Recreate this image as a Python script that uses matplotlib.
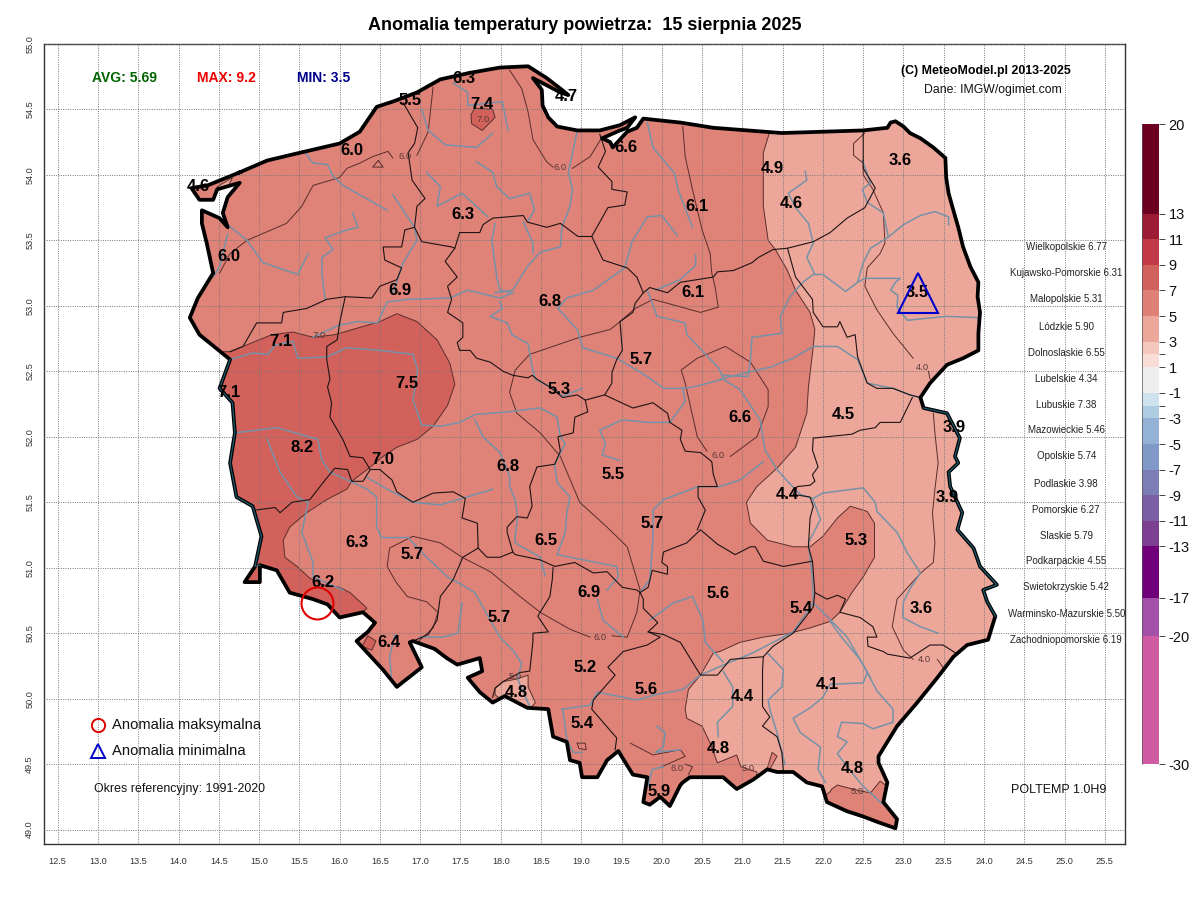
import matplotlib
matplotlib.use('Agg')
import matplotlib.pyplot as plt
import numpy as np
from matplotlib.colors import BoundaryNorm, ListedColormap
from matplotlib.patches import Polygon

plt.rcParams['font.family'] = ['Liberation Sans', 'DejaVu Sans']

# everything below as (lon, lat)
border = [(14.76,54.02),(15.10,54.11),(15.51,54.17),(16.00,54.24),(16.25,54.33),(16.46,54.52),(16.66,54.56),
    (16.96,54.63),(17.25,54.73),(17.62,54.78),(17.99,54.82),(18.34,54.83),(18.57,54.74),(18.74,54.66),(18.84,54.61),
    (18.74,54.63),(18.40,54.74),(18.51,54.65),(18.52,54.53),(18.59,54.44),(18.70,54.37),(18.95,54.34),(19.23,54.34),
    (19.48,54.38),(19.67,54.44),(19.57,54.36),(19.48,54.34),(19.26,54.28),(19.36,54.25),(19.39,54.21),(19.57,54.33),
    (19.69,54.36),(19.77,54.43),(20.23,54.40),(20.64,54.36),(21.06,54.34),(21.49,54.32),(22.00,54.33),(22.50,54.34),
    (22.80,54.36),(22.84,54.40),(22.90,54.41),(23.00,54.37),(23.08,54.32),(23.21,54.28),(23.37,54.21),(23.52,54.13),
    (23.53,53.98),(23.56,53.86),(23.61,53.75),(23.68,53.60),(23.74,53.45),(23.83,53.30),(23.93,53.18),(23.92,53.07),
    (23.95,52.95),(23.93,52.79),(23.93,52.66),(23.74,52.60),(23.54,52.55),(23.33,52.41),(23.21,52.30),(23.25,52.22),
    (23.54,52.18),(23.70,51.99),(23.64,51.85),(23.68,51.80),(23.56,51.73),(23.58,51.62),(23.73,51.42),(23.67,51.29),
    (23.87,51.15),(23.95,51.01),(24.16,50.87),(23.99,50.83),(24.04,50.74),(24.14,50.63),(24.05,50.45),(23.79,50.41),
    (23.62,50.32),(23.42,50.16),(23.17,49.97),(22.92,49.79),(22.69,49.56),(22.69,49.51),(22.80,49.36),(22.75,49.21),
    (22.92,49.08),(22.90,49.01),(22.67,49.06),(22.50,49.10),(22.30,49.14),(22.05,49.21),(21.99,49.33),(21.80,49.36),
    (21.63,49.44),(21.43,49.44),(21.31,49.46),(21.13,49.38),(20.93,49.31),(20.76,49.40),(20.51,49.40),(20.35,49.40),
    (20.26,49.36),(20.23,49.34),(20.10,49.18),(19.98,49.25),(19.85,49.19),(19.77,49.21),(19.82,49.40),(19.64,49.42),
    (19.46,49.60),(19.32,49.53),(19.20,49.40),(19.01,49.40),(18.98,49.51),(18.86,49.53),(18.82,49.67),(18.65,49.71),
    (18.59,49.92),(18.33,49.93),(18.05,50.02),(17.90,49.97),(17.74,50.05),(17.59,50.16),(17.77,50.21),(17.74,50.31),
    (17.46,50.26),(17.33,50.31),(17.18,50.38),(16.91,50.44),(16.87,50.43),(17.02,50.24),(16.71,50.09),(16.54,50.22),
    (16.21,50.44),(16.35,50.51),(16.44,50.58),(16.29,50.66),(16.00,50.62),(15.85,50.72),(15.67,50.76),(15.38,50.81),
    (15.22,50.98),(15.01,51.02),(15.01,50.89),(14.82,50.89),(14.95,51.01),(15.03,51.24),(14.92,51.47),(14.72,51.54),
    (14.64,51.80),(14.70,52.03),(14.67,52.26),(14.51,52.37),(14.64,52.59),(14.26,52.78),(14.14,52.91),(14.24,53.06),
    (14.43,53.25),(14.35,53.48),(14.29,53.63),(14.29,53.73),(14.51,53.67),(14.61,53.60),(14.55,53.71),(14.61,53.83),
    (14.76,53.94),(14.48,53.89),(14.43,53.81),(14.26,53.81),(14.16,53.90),(14.36,53.92),(14.48,53.95),(14.76,54.02)]

# anomaly bands: the base of the country is the 5-7 colour
band_3_5 = [(21.33,54.50),(21.33,54.31),(21.26,54.17),(21.26,53.98),(21.26,53.76),(21.32,53.50),(21.41,53.43),
    (21.56,53.27),(21.66,53.12),(21.84,52.95),(21.90,52.82),(21.88,52.69),(21.82,52.38),(21.80,52.18),(21.66,51.92),
    (21.43,51.76),(21.18,51.62),(21.05,51.50),(21.10,51.34),(21.31,51.21),(21.63,51.16),(21.84,51.16),(22.00,51.24),
    (22.18,51.38),(22.34,51.47),(22.55,51.43),(22.64,51.34),(22.64,51.08),(22.50,50.93),(22.36,50.81),(22.21,50.66),
    (22.09,50.59),(21.84,50.54),(21.59,50.50),(21.26,50.47),(20.97,50.43),(20.72,50.36),(20.64,50.35),(20.48,50.18),
    (20.33,50.07),(20.29,49.92),(20.31,49.85),(20.50,49.79),(20.60,49.66),(20.69,49.51),(20.93,49.57),(20.98,49.48),
    (21.18,49.44),(21.18,48.80),(24.50,48.80),(24.50,54.50)]
patch_3_5_south = [(17.93,50.03),(17.93,50.08),(18.03,50.13),(18.20,50.15),(18.34,50.18),(18.34,50.09),(18.43,49.97),
    (18.33,49.90),(18.05,49.97)]
patch_3_5_north = [(14.48,53.91),(14.67,53.98),(14.60,53.89),(14.48,53.87)]
patch_5_7_bieszczady = [(22.11,49.31),(22.18,49.34),(22.43,49.30),(22.59,49.28),(22.71,49.37),(22.80,49.33),(22.77,49.23),
    (22.96,49.04),(22.90,48.96),(22.46,49.04),(21.97,49.23),(22.09,49.29)]
patch_5_7_tatra = [(21.31,49.47),(21.37,49.59),(21.43,49.56),(21.34,49.46)]
band_7_9 = [(13.64,52.65),(14.64,52.65),(15.16,52.78),(15.42,52.80),(15.67,52.76),(15.94,52.78),(16.50,52.88),(16.71,52.94),
    (16.96,52.88),(17.21,52.74),(17.37,52.56),(17.43,52.40),(17.34,52.24),(17.16,52.08),(16.96,51.98),(16.71,51.92),
    (16.54,51.85),(16.34,51.75),(16.15,51.66),(16.09,51.60),(15.84,51.52),(15.59,51.42),(15.38,51.31),(15.30,51.21),
    (15.32,51.08),(15.47,51.01),(15.63,50.92),(15.79,50.87),(16.00,50.85),(16.13,50.81),(16.34,50.69),(16.15,50.59),
    (13.64,50.59)]
patch_7_9_north = [(17.68,54.51),(17.90,54.50),(17.93,54.44),(17.77,54.34),(17.64,54.39),(17.63,54.46)]
patch_7_9_south = [(16.35,50.48),(16.45,50.44),(16.40,50.37),(16.28,50.40)]

contours = [
    [(14.51,53.25),(14.64,53.40),(14.85,53.50),(15.34,53.63),(15.53,53.76),(15.67,53.92),(16.00,53.98),(16.09,54.05),
     (16.25,54.09),(16.41,54.14),(16.60,54.18),(16.66,54.13)],
    [(16.96,54.15),(17.10,54.33),(17.16,54.67)],
    [(16.48,54.11),(16.41,54.06),(16.54,54.06),(16.48,54.11)],
    [(18.11,54.80),(18.26,54.66),(18.34,54.48),(18.40,54.27),(18.57,54.10),(18.65,54.06)],
    [(18.89,54.05),(19.11,54.14),(19.26,54.29)],
    [(16.93,50.41),(17.16,50.54),(17.22,50.66),(17.08,50.74),(16.84,50.78),(16.70,50.89),(16.59,51.01),(16.62,51.15),
     (16.91,51.24),(17.25,51.19),(17.52,51.08),(17.87,50.97),(18.24,50.78),(18.49,50.66),(18.86,50.53),(19.11,50.47)],
    [(19.38,50.48),(19.57,50.47),(19.69,50.66),(19.73,50.83),(19.57,51.16),(19.32,51.31),(18.98,51.50),(18.74,51.85),
     (18.49,52.03),(18.20,52.18),(18.11,52.34),(18.18,52.51),(18.36,52.63),(18.98,52.76),(19.36,52.82),(19.48,52.88),
     (19.67,52.98),(19.89,53.05),(20.48,52.95),(20.70,52.99),(20.66,53.15),(20.62,53.25),(20.60,53.40),(20.50,53.58),
     (20.38,53.89),(20.29,54.14),(20.26,54.37)],
    [(20.85,51.85),(21.18,52.00),(21.32,52.23),(21.32,52.36),(21.10,52.57),(20.79,52.69),(20.44,52.60),(20.24,52.51),
     (20.29,52.41),(20.44,52.00),(20.56,51.89)],
    [(22.52,54.32),(22.38,54.24),(22.38,54.15),(22.50,54.09),(22.50,54.00),(22.62,53.89),(22.75,53.71),(22.77,53.48),
     (22.71,53.40),(22.55,53.29),(22.52,53.15),(22.67,52.97),(22.87,52.79),(23.12,52.60)],
    [(23.31,52.50),(23.33,52.44)],
    [(23.37,52.18),(23.39,52.03),(23.43,51.80),(23.39,51.60),(23.36,51.42),(23.39,51.19),(23.37,51.04),(23.25,50.98),
     (23.17,50.93),(22.92,50.76),(22.86,50.55),(23.00,50.37),(23.12,50.30)],
    [(23.42,50.30),(23.49,50.24)],
    [(18.95,49.66),(19.05,49.66),(19.06,49.61),(18.97,49.62),(18.95,49.66)],
    [(19.61,49.66),(19.89,49.57),(20.23,49.61),(20.29,49.56),(20.00,49.48)],
    [(20.29,49.50),(20.38,49.48),(20.33,49.42)],
]

voivodeship_lines = [
    [(16.79,54.55),(16.97,54.36),(16.93,54.24),(16.85,54.17),(16.90,53.96),(17.06,53.82),(16.96,53.76),(16.93,53.60),
     (16.81,53.58),(16.77,53.45),(16.54,53.45),(16.56,53.35),(16.77,53.29),(16.71,53.20),(16.50,53.15),(16.40,53.06),
     (16.07,53.07),(15.84,53.05),(15.59,52.98),(15.30,52.95),(15.28,52.87),(14.97,52.87),(14.80,52.69),(14.64,52.65)],
    [(16.07,53.07),(16.00,52.87),(15.97,52.74),(15.84,52.69),(15.84,52.59),(15.88,52.44),(15.85,52.38),(15.90,52.26),
     (15.88,52.15),(16.04,51.98),(16.13,51.85),(16.29,51.84),(16.38,51.75)],
    [(14.95,51.44),(15.20,51.46),(15.26,51.42),(15.41,51.50),(15.63,51.52),(15.82,51.67),(15.94,51.76),(16.10,51.75),
     (16.15,51.66),(16.29,51.66),(16.38,51.75),(16.50,51.75),(16.65,51.67),(16.71,51.58),(16.91,51.50),(17.16,51.57),
     (17.41,51.58),(17.56,51.53),(17.52,51.38),(17.71,51.34),(17.72,51.15)],
    [(17.72,51.15),(17.53,51.08),(17.41,50.91),(17.25,50.78),(17.21,50.60),(17.10,50.49),(16.91,50.44)],
    [(17.72,51.15),(17.83,51.08),(17.99,51.08),(18.15,51.12),(18.18,51.10),(18.49,51.06),(18.67,51.01),(18.92,51.04),
     (19.15,50.96),(19.32,50.97),(19.51,50.85),(19.69,50.83),(19.73,50.81)],
    [(18.15,51.12),(18.08,51.27),(18.08,51.31),(18.20,51.39),(18.33,51.38),(18.39,51.47),(18.36,51.62),(18.45,51.77),
     (18.67,51.79),(18.74,51.89),(18.71,52.00),(18.90,52.03),(18.92,52.15),(19.08,52.19),(19.05,52.28),(18.95,52.32),
     (18.77,52.30),(18.61,52.38),(18.45,52.44),(18.39,52.47),(18.34,52.45),(18.15,52.47),(18.03,52.50),(17.87,52.57),
     (17.70,52.60),(17.62,52.66),(17.49,52.66),(17.46,52.72),(17.53,52.76),(17.53,52.87),(17.34,52.95),(17.39,53.05),
     (17.34,53.15),(17.46,53.22),(17.31,53.34),(17.43,53.44)],
    [(16.93,53.60),(17.02,53.49),(17.39,53.45),(17.43,53.44),(17.49,53.56),(17.74,53.56),(17.78,53.62),(17.90,53.67),
     (18.28,53.69),(18.33,53.64),(18.57,53.60),(18.74,53.63),(18.96,53.53),(19.13,53.53),(19.27,53.35),(19.57,53.29),
     (19.69,53.22),(19.77,53.10),(19.67,53.02),(19.64,52.95),(19.48,52.88),(19.51,52.66),(19.44,52.59),(19.38,52.49),
     (19.38,52.41),(19.29,52.32),(19.05,52.28)],
    [(19.23,54.31),(19.30,54.18),(19.21,54.06),(19.38,53.95),(19.38,53.89),(19.57,53.87),(19.54,53.77),(19.33,53.75),
     (19.13,53.53)],
    [(19.77,53.10),(19.85,53.14),(20.07,53.10),(20.23,53.18),(20.64,53.22),(20.69,53.26),(20.89,53.27),(21.12,53.33),
     (21.20,53.37),(21.38,53.43),(21.56,53.44),(21.88,53.49),(22.09,53.56),(22.30,53.67),(22.52,53.75),(22.65,53.90),
     (22.50,54.05),(22.50,54.33)],
    [(21.56,53.44),(21.66,53.22),(21.87,53.05),(21.88,52.95),(22.00,52.84),(22.18,52.84),(22.21,52.88),(22.30,52.76),
     (22.40,52.78),(22.43,52.61),(22.55,52.41),(22.67,52.37),(22.87,52.37),(23.08,52.32),(23.21,52.30)],
    [(23.11,52.30),(22.96,52.11),(22.71,52.11),(22.65,52.07),(22.46,52.05),(22.36,52.02),(21.88,51.99),(21.87,51.90),
     (21.94,51.77),(21.87,51.71),(21.90,51.66),(21.84,51.63),(21.68,51.62),(21.63,51.56),(21.84,51.54),(21.88,51.47),
     (21.84,51.38),(21.82,51.16),(21.87,51.05),(21.51,51.01),(21.26,51.05),(21.16,51.16),(21.10,51.16),(20.91,51.10),
     (20.69,51.18),(20.48,51.29),(20.31,51.19),(20.02,51.12),(20.00,51.04),(20.07,51.01),(20.07,50.95),(19.88,50.98),
     (19.83,50.85),(19.73,50.81)],
    [(19.29,52.32),(19.64,52.22),(19.89,52.26),(20.07,52.18),(20.10,52.11),(20.25,52.05),(20.23,51.98),(20.29,51.89),
     (20.48,51.88),(20.62,51.81),(20.64,51.71),(20.69,51.62),(20.45,51.62),(20.45,51.54),(20.54,51.44),(20.44,51.29)],
    [(21.87,51.05),(21.90,50.81),(21.88,50.70),(21.63,50.50),(21.38,50.40),(21.26,50.32),(21.25,50.22),(21.25,49.94),
     (21.34,49.86),(21.25,49.79),(21.43,49.71),(21.49,49.59),(21.51,49.44)],
    [(21.26,50.32),(20.85,50.30),(20.69,50.18),(20.48,50.18),(20.23,50.43),(20.02,50.49),(19.83,50.51)],
    [(19.73,50.81),(19.77,50.76),(19.77,50.69),(19.95,50.58),(19.83,50.51),(19.98,50.47),(19.82,50.41),(19.52,50.36),
     (19.33,50.24),(19.42,50.18),(19.15,49.99),(19.13,49.92),(19.27,49.82),(19.44,49.70),(19.42,49.61)],
    [(18.65,51.00),(18.64,50.91),(18.61,50.78),(18.51,50.68),(18.46,50.63),(18.59,50.51),(18.40,50.50),(18.40,50.44),
     (18.36,50.21),(18.24,50.20),(18.03,50.13),(17.93,50.08),(17.90,50.01)],
    [(21.90,50.81),(22.05,50.76),(22.18,50.79),(22.28,50.76),(22.21,50.66),(22.46,50.62),(22.62,50.55),(22.67,50.47),
     (22.55,50.47),(22.56,50.40),(22.75,50.36),(22.80,50.34),(23.08,50.31),(23.33,50.41),(23.49,50.41),(23.67,50.34)],
]

rivers = [
    [(18.95,54.34),(18.84,54.02),(18.89,53.89),(18.86,53.76),(18.76,53.60),(18.74,53.45),(18.49,53.41),(18.33,53.30),
     (18.15,53.12),(17.93,53.10)],
    [(17.93,53.63),(17.89,53.50),(17.95,53.22),(17.99,53.12),(18.15,53.10)],
    [(18.28,53.64),(18.40,53.48),(18.40,53.40)],
    [(14.64,52.59),(14.92,52.64),(15.11,52.63),(15.20,52.70),(15.42,52.73),(15.48,52.60),(15.84,52.61),(16.09,52.68),
     (16.50,52.66),(16.91,52.63),(16.97,52.51),(16.91,52.28),(17.02,52.09),(17.25,52.08),(17.49,52.11),(17.68,52.17),
     (18.08,52.19),(18.49,52.22),(18.70,52.15),(18.74,52.00),(18.80,51.95),(18.67,51.79),(18.70,51.65),(18.86,51.54),
     (18.82,51.42),(18.80,51.27),(18.70,51.10),(19.11,51.05),(19.44,51.01),(19.46,50.93),(19.32,50.83)],
    [(15.67,52.76),(15.98,52.85),(16.22,52.88),(16.47,52.87),(16.59,53.03),(16.84,53.05),(17.37,53.06),(17.59,53.12),
     (17.99,53.06),(18.15,53.10)],
    [(17.99,53.03),(18.02,52.98),(17.87,52.92),(18.08,52.87),(18.14,52.78),(18.34,52.71),(18.39,52.53),(18.43,52.44),
     (18.61,52.38),(18.77,52.31),(19.01,52.37)],
    [(18.71,52.98),(18.95,52.82),(19.02,52.68),(19.44,52.60),(19.82,52.46),(20.02,52.37),(20.26,52.37),(20.29,52.27),
     (20.10,52.11),(19.82,52.11),(19.51,52.13),(19.23,52.05),(19.30,51.95),(19.26,51.86),(19.48,51.82)],
    [(20.26,52.37),(20.39,52.38),(20.76,52.44),(20.97,52.36),(21.22,52.13),(21.28,51.90),(21.43,51.75),(21.56,51.66),
     (21.72,51.56),(21.87,51.53),(21.97,51.37),(21.82,51.19),(21.87,50.91),(21.88,50.73),(22.05,50.63),(22.30,50.47),
     (22.46,50.30),(22.59,50.16)],
    [(18.76,49.92),(19.11,49.95),(19.20,50.05),(19.69,49.99),(19.92,50.03),(20.26,50.07),(20.48,50.18),(20.85,50.28),
     (21.13,50.35),(21.38,50.43),(21.63,50.51),(21.88,50.73)],
    [(21.31,50.35),(21.51,50.22),(21.49,50.09),(21.32,49.99),(21.34,49.92),(21.43,49.74),(21.49,49.59),(21.53,49.50)],
    [(20.76,50.21),(20.88,50.09),(20.88,49.94),(20.69,49.82),(20.70,49.71)],
    [(22.09,50.59),(22.23,50.47),(22.46,50.30),(22.55,50.20),(22.50,50.12),(22.09,50.11),(22.00,50.01),(21.84,49.93),
     (21.63,49.85),(21.72,49.74),(21.97,49.63),(21.94,49.46),(22.03,49.36)],
    [(22.55,50.20),(22.67,50.06),(22.87,49.92),(22.87,49.82),(22.62,49.77),(22.50,49.81),(22.23,49.82),(22.18,49.71),
     (22.30,49.67),(22.18,49.58),(22.30,49.48),(22.50,49.33),(22.75,49.19)],
    [(21.26,51.81),(20.97,51.67),(20.72,51.62),(20.45,51.62),(20.02,51.52),(19.89,51.44),(19.89,51.21),(19.85,50.91),
     (19.73,50.81)],
    [(21.88,51.53),(22.00,51.57),(22.50,51.61),(22.65,51.50),(22.67,51.43),(22.92,51.27),(23.05,51.11),(23.21,50.96),
     (23.09,50.85),(23.00,50.74),(22.99,50.62),(23.21,50.55),(23.43,50.50)],
    [(23.56,53.62),(23.56,53.68),(23.39,53.72),(23.21,53.69),(23.00,53.62),(22.80,53.52),(22.59,53.44),(22.50,53.33),
     (22.43,53.18),(22.28,53.11),(22.13,53.18),(22.00,53.24),(21.88,53.24),(21.75,53.18),(21.59,53.07),(21.47,52.92),
     (21.49,52.79),(21.12,52.76),(21.10,52.59),(21.07,52.46),(20.76,52.47)],
    [(20.72,52.44),(21.12,52.50),(21.34,52.53),(21.63,52.60),(21.88,52.69),(22.18,52.69),(22.43,52.59),(22.55,52.41),
     (22.87,52.37),(23.08,52.32),(23.21,52.30)],
    [(23.92,52.91),(23.54,52.92),(23.05,52.89),(22.92,52.99),(22.93,53.08),(22.84,53.12),(22.90,53.18),(22.96,53.21),
     (22.52,53.21),(22.43,53.18)],
    [(22.49,54.11),(22.59,53.94),(22.49,53.89),(22.55,53.79),(22.75,53.71),(22.81,53.53)],
    [(21.78,54.03),(21.80,53.96),(21.57,53.86),(21.66,53.75),(21.82,53.63),(21.88,53.48),(21.80,53.37),(21.90,53.24)],
    [(19.82,54.40),(19.89,54.21),(20.16,54.01),(20.20,53.89),(20.33,53.68),(20.38,53.60)],
    [(20.19,53.54),(20.00,53.69),(19.82,53.68),(19.63,53.49),(19.54,53.29),(19.15,53.12),(18.82,53.06),(18.71,52.98)],
    [(19.92,53.12),(20.23,53.20),(20.42,53.31),(20.42,53.39)],
    [(19.82,53.12),(19.94,52.92),(20.29,52.87),(20.31,52.78),(20.51,52.65),(20.70,52.53),(20.76,52.45)],
    [(15.57,54.17),(15.67,54.09),(15.85,54.08),(15.92,53.99),(16.04,53.92),(16.59,53.73)],
    [(14.61,53.62),(14.85,53.50),(15.05,53.33),(15.48,53.24),(15.61,53.40)],
    [(14.43,53.22),(14.51,53.30),(14.61,53.55)],
    [(16.16,53.71),(16.23,53.60),(16.09,53.58),(15.82,53.52),(15.92,53.43),(15.78,53.37),(15.78,53.25),(15.82,53.05)],
    [(17.08,54.02),(17.25,53.91),(17.21,53.76),(17.52,53.86),(17.84,53.68)],
    [(17.70,54.10),(17.90,54.02),(17.95,53.91),(18.11,53.82),(18.36,53.86),(18.42,53.73),(18.34,53.65)],
    [(17.41,54.70),(17.59,54.63),(17.59,54.53),(18.02,54.56),(18.09,54.34)],
    [(17.02,54.50),(17.10,54.34),(17.31,54.23),(17.70,54.21),(17.90,54.32)],
    [(16.66,53.85),(16.93,53.60),(16.96,53.50),(16.79,53.33),(16.66,53.10)],
    [(14.70,52.03),(15.22,52.07),(15.73,51.98),(15.78,51.82),(15.88,51.73),(16.13,51.66)],
    [(15.10,51.98),(15.26,51.73),(15.47,51.54),(15.61,51.50),(15.53,51.27),(15.67,51.04),(15.67,50.93),(16.04,50.83)],
    [(16.13,51.66),(16.34,51.60),(16.46,51.54),(16.46,51.31),(16.52,51.23),(16.85,51.23),(17.08,51.08),(17.34,50.93),
     (17.46,50.89),(17.68,50.81),(17.95,50.51),(17.99,50.47),(18.15,50.37),(18.26,50.27),(18.21,50.15),(18.36,49.94)],
    [(16.34,51.69),(16.59,51.60),(16.91,51.50),(17.25,51.48),(17.58,51.54),(17.90,51.60)],
    [(17.52,50.73),(17.47,50.50),(17.28,50.47),(17.00,50.47)],
    [(16.69,50.49),(16.62,50.32),(16.65,50.11)],
    [(17.68,52.13),(17.78,52.00),(17.99,51.88),(18.11,51.70),(18.11,51.62),(18.18,51.52),(18.21,51.39),(18.18,51.24),
     (18.18,51.19),(18.49,51.08),(18.55,50.94)],
    [(19.85,50.60),(20.14,50.73),(20.38,50.78),(20.51,50.60),(20.54,50.43),(20.76,50.28)],
    [(19.20,50.76),(19.27,50.60),(19.52,50.47)],
    [(18.77,49.92),(18.82,49.69),(18.90,49.59),(19.01,49.59)],
    [(19.94,49.79),(20.04,49.74),(20.02,49.63),(19.92,49.59),(20.23,49.61)],
    [(19.83,49.33),(19.88,49.46),(20.02,49.48)],
]

# station / region values printed on the map
label_text = ['6.3','5.5','7.4','4.7','6.0','6.6','4.6','6.3','4.9','6.1','4.6','3.6','6.0','6.9','6.8','6.1','3.5','7.1',
    '5.7','7.5','7.1','5.3','6.6','4.5','3.9','8.2','7.0','6.8','5.5','4.4','3.9','5.7','6.3','5.7','6.5','5.3','6.9','6.2',
    '5.6','5.4','3.6','5.7','6.4','5.2','4.8','5.6','4.1','4.4','5.4','4.8','4.8','5.9']
label_lon = [17.54,16.87,17.77,18.82,16.15,19.56,14.24,17.53,21.37,20.43,21.61,22.96,14.62,16.75,18.61,20.38,23.17,15.27,
    19.74,16.84,14.62,18.72,20.97,22.25,23.63,15.53,16.54,18.09,19.39,21.56,23.54,19.88,16.21,16.90,18.56,22.41,19.10,15.79,
    20.70,21.73,23.22,17.98,16.61,19.05,18.19,19.80,22.05,21.00,19.01,20.70,22.36,19.97]
label_lat = [54.74,54.57,54.54,54.60,54.19,54.21,53.91,53.70,54.05,53.76,53.78,54.11,53.38,53.12,53.03,53.10,53.10,52.73,
    52.59,52.41,52.34,52.36,52.15,52.17,52.07,51.92,51.83,51.77,51.71,51.56,51.54,51.34,51.19,51.10,51.21,51.21,50.81,50.89,
    50.80,50.69,50.69,50.62,50.43,50.24,50.05,50.07,50.11,50.02,49.81,49.62,49.47,49.29]

contour_label_text = ['6.0','6.0','7.0','7.0','6.0','4.0','4.0','6.0','5.0','5.0','6.0','5.0']
contour_label_lon = [16.81,18.74,15.74,17.78,20.70,23.23,23.26,19.23,21.07,22.43,20.19,18.18]
contour_label_lat = [54.14,54.06,52.77,54.42,51.86,52.53,50.30,50.47,49.47,49.29,49.47,50.17]

region_names = ['Wielkopolskie 6.77','Kujawsko-Pomorskie 6.31','Malopolskie 5.31','Lódzkie 5.90','Dolnoslaskie 6.55',
    'Lubelskie 4.34','Lubuskie 7.38','Mazowieckie 5.46','Opolskie 5.74','Podlaskie 3.98','Pomorskie 6.27','Slaskie 5.79',
    'Podkarpackie 4.55','Swietokrzyskie 5.42','Warminsko-Mazurskie 5.50','Zachodniopomorskie 6.19']
region_lat = [53.45,53.25,53.05,52.84,52.64,52.44,52.24,52.05,51.85,51.64,51.44,51.24,51.05,50.85,50.65,50.45]

cbar_levels = [-30,-20,-17,-13,-11,-9,-7,-5,-3,-2,-1,1,2,3,5,7,9,11,13,20]
cbar_colors = ['#CF5BA3','#A350A8','#70007A','#7D3F92','#7A5FA5','#7C7DB5','#8199C7','#94B2D5','#AFCDE2','#CFE3EE',
    '#EEEEEE','#F9DED7','#F5C8BD','#EDA79A','#DF8077','#D0615C','#C23A48','#9C1B35','#6B0020']
cbar_ticks = [20,13,11,9,7,5,3,1,-1,-3,-5,-7,-9,-11,-13,-17,-20,-30]

col_3_5 = '#EDA79A'
col_5_7 = '#DF8278'
col_7_9 = '#D2615B'
line_col = '#5A2E2C'
river_col = '#7592A8'

fig = plt.figure(figsize=(12, 9), dpi=100)
ax = fig.add_axes([44/1200, 1-844/900, (1125-44)/1200, 800/900])
ax.set_xlim(12.33, 25.75)
ax.set_ylim(48.89, 55.0)

country = Polygon(border, closed=True, facecolor=col_5_7, edgecolor='none', zorder=1)
ax.add_patch(country)


def add_band(pts, colour):
    p = Polygon(pts, closed=True, facecolor=colour, edgecolor=line_col, linewidth=0.7, zorder=2)
    ax.add_patch(p)
    p.set_clip_path(country)


add_band(band_3_5, col_3_5)
add_band(patch_3_5_south, col_3_5)
add_band(patch_3_5_north, col_3_5)
add_band(patch_5_7_bieszczady, col_5_7)
add_band(patch_5_7_tatra, col_5_7)
add_band(band_7_9, col_7_9)
add_band(patch_7_9_north, col_7_9)
add_band(patch_7_9_south, col_7_9)

for line in contours:
    pts = np.array(line)
    l, = ax.plot(pts[:, 0], pts[:, 1], color=line_col, lw=0.7, zorder=3)
    l.set_clip_path(country)

for line in rivers:
    pts = np.array(line)
    l, = ax.plot(pts[:, 0], pts[:, 1], color=river_col, lw=1.1, zorder=4)
    l.set_clip_path(country)

for line in voivodeship_lines:
    pts = np.array(line)
    ax.plot(pts[:, 0], pts[:, 1], color='#1E1414', lw=0.8, zorder=5)

ax.set_xticks(np.arange(12.5, 25.6, 0.5))
ax.set_yticks(np.arange(49.0, 55.1, 0.5))
ax.set_xticklabels(['%.1f' % v for v in np.arange(12.5, 25.6, 0.5)], fontsize=6.6, color='#333333')
ax.set_yticklabels(['%.1f' % v for v in np.arange(49.0, 55.1, 0.5)], fontsize=6.6, color='#333333', rotation=90, va='center')
ax.tick_params(axis='x', length=0, pad=9)
ax.tick_params(axis='y', length=0, pad=7)
ax.grid(True, color='#777777', lw=0.7, linestyle=(0, (1, 1.4)), zorder=6)
ax.set_axisbelow(False)
for sp in ax.spines.values():
    sp.set_color('#333333')
    sp.set_linewidth(1.0)

bd = np.array(border)
ax.plot(bd[:, 0], bd[:, 1], color='black', lw=2.7, solid_joinstyle='round', zorder=7)
# border rivers show through the thick outline
odra_part = (bd[:, 0] < 15.1) & (bd[:, 1] > 51.0) & (bd[:, 1] < 52.6)
bug_part = (bd[:, 0] > 23.2) & (bd[:, 1] > 50.6) & (bd[:, 1] < 52.3)
ax.plot(bd[odra_part, 0], bd[odra_part, 1], color='#1E5A6E', lw=0.9, zorder=8)
ax.plot(bd[bug_part, 0], bd[bug_part, 1], color='#1E5A6E', lw=0.9, zorder=8)

for s, x, y in zip(contour_label_text, contour_label_lon, contour_label_lat):
    ax.text(x, y, s, fontsize=6.8, color='#5A3A38', ha='center', va='center', zorder=9)

for s, x, y in zip(label_text, label_lon, label_lat):
    ax.text(x, y, s, fontsize=12, fontweight='bold', color='black', ha='center', va='center', zorder=10)

for s, y in zip(region_names, region_lat):
    ax.text(25.02, y, s, fontsize=7, color='#222222', ha='center', va='center', zorder=10)

ax.plot([15.72], [50.73], marker='o', ms=23, mfc='none', mec='#E00000', mew=1.5, zorder=11)
ax.plot([23.18], [53.10], marker='^', ms=29, mfc='none', mec='#0000CC', mew=1.5, zorder=11)

ax.text(12.93, 54.74, 'AVG: 5.69', fontsize=10, fontweight='bold', color='#006400', va='center', zorder=10)
ax.text(14.23, 54.74, 'MAX: 9.2', fontsize=10, fontweight='bold', color='#EE0000', va='center', zorder=10)
ax.text(15.47, 54.74, 'MIN: 3.5', fontsize=10, fontweight='bold', color='#00008B', va='center', zorder=10)
ax.text(24.02, 54.79, '(C) MeteoModel.pl 2013-2025', fontsize=8.9, fontweight='bold', ha='center', va='center', zorder=10)
ax.text(24.11, 54.65, 'Dane: IMGW/ogimet.com', fontsize=8.8, color='#111111', ha='center', va='center', zorder=10)

ax.plot([13.0], [49.80], marker='o', ms=9.5, mfc='none', mec='#E00000', mew=1.4, zorder=10)
ax.plot([13.0], [49.60], marker='^', ms=9.5, mfc='none', mec='#0000CC', mew=1.4, zorder=10)
ax.text(13.18, 49.80, 'Anomalia maksymalna', fontsize=10.6, color='#111111', va='center', zorder=10)
ax.text(13.18, 49.60, 'Anomalia minimalna', fontsize=10.6, color='#111111', va='center', zorder=10)
ax.text(12.95, 49.31, 'Okres referencyjny: 1991-2020', fontsize=8.9, color='#111111', va='center', zorder=10)
ax.text(24.93, 49.30, 'POLTEMP 1.0H9', fontsize=9, color='#111111', ha='center', va='center', zorder=10)

fig.text(585/1200, 1-25/900, 'Anomalia temperatury powietrza:  15 sierpnia 2025', fontsize=13, fontweight='bold',
    ha='center', va='center')

# colour scale on the right
cax = fig.add_axes([1142/1200, 1-764/900, 17/1200, 640/900])
cmap = ListedColormap(cbar_colors)
norm = BoundaryNorm(cbar_levels, cmap.N)
yy = np.array(cbar_levels, dtype=float)
cax.pcolormesh([0, 1], yy, np.array(cbar_levels[:-1], dtype=float).reshape(-1, 1) + 0.001, cmap=cmap, norm=norm)
cax.set_ylim(-30, 20)
cax.set_xticks([])
cax.yaxis.tick_right()
cax.set_yticks(cbar_ticks)
cax.set_yticklabels([str(v) for v in cbar_ticks], fontsize=10.5, color='#111111')
cax.set_yticks([2, -2], minor=True)
cax.tick_params(axis='y', which='major', length=4, width=0.7, color='#444444', pad=3)
cax.tick_params(axis='y', which='minor', length=4, width=0.7, color='#444444')
for sp in cax.spines.values():
    sp.set_visible(False)
cax.spines['left'].set_visible(True)
cax.spines['left'].set_color('#555555')
cax.spines['left'].set_linewidth(0.5)

fig.savefig('out.png', dpi=100)
